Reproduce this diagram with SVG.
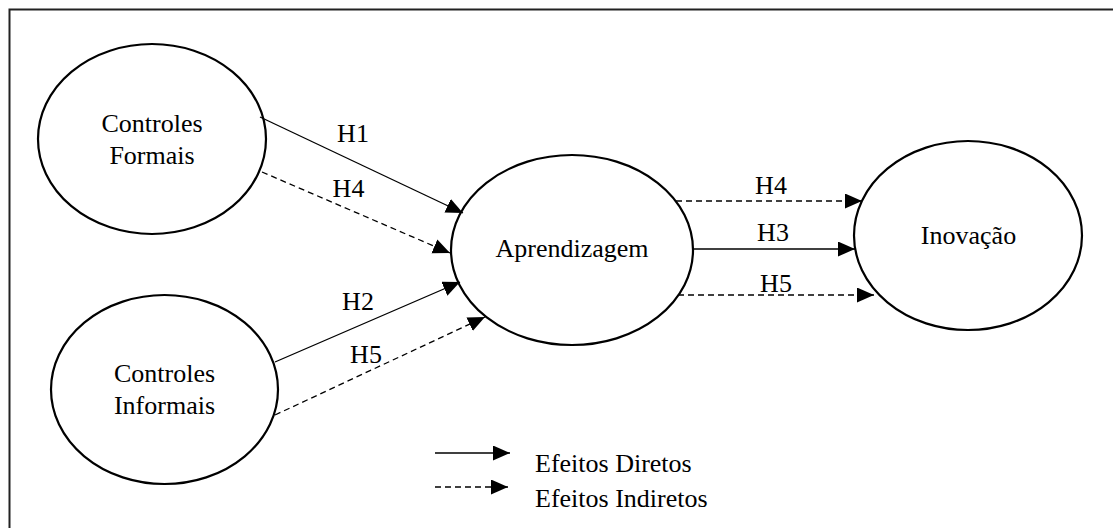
<svg xmlns="http://www.w3.org/2000/svg" width="1113" height="528" viewBox="0 0 1113 528">
<style>
.node{fill:#fff;stroke:#000;stroke-width:2.2}
.lbl{font-family:'Liberation Serif','Times New Roman',Times,serif;font-size:26px;fill:#000;text-anchor:middle}
.leg{font-family:'Liberation Serif','Times New Roman',Times,serif;font-size:26px;fill:#000}
.solid{stroke:#000;stroke-width:1.3;fill:none;marker-end:url(#ah)}
.dash{stroke:#000;stroke-width:1.3;fill:none;stroke-dasharray:6 4;marker-end:url(#ah)}
</style>
<defs>
<marker id="ah" markerUnits="userSpaceOnUse" markerWidth="18" markerHeight="16" refX="17" refY="7.5" orient="auto">
<path d="M0,0 L17,7.5 L0,15 Z" fill="#000"/>
</marker>
</defs>
<rect x="0" y="0" width="1113" height="528" fill="#fff"/>
<path d="M9.5,528 V9.5 H1113" fill="none" stroke="#222" stroke-width="2"/>
<g id="n-formais">
<ellipse class="node" cx="152" cy="139" rx="114" ry="95"/>
<text class="lbl" x="152" y="132">Controles</text>
<text class="lbl" x="152" y="164">Formais</text>
</g>
<g id="n-informais">
<ellipse class="node" cx="164.5" cy="389.5" rx="113.5" ry="94.5"/>
<text class="lbl" x="164.5" y="382">Controles</text>
<text class="lbl" x="164.5" y="414">Informais</text>
</g>
<g id="n-aprendizagem">
<ellipse class="node" cx="572" cy="250" rx="121" ry="95"/>
<text class="lbl" x="572" y="257">Aprendizagem</text>
</g>
<g id="n-inovacao">
<ellipse class="node" cx="968" cy="235.5" rx="114" ry="94.5"/>
<text class="lbl" x="968.5" y="244">Inovação</text>
</g>
<g id="connectors">
<line class="solid" x1="260" y1="117" x2="463" y2="213"/>
<line class="dash" x1="262" y1="172" x2="450" y2="253"/>
<line class="solid" x1="275" y1="362" x2="460" y2="282"/>
<line class="dash" x1="275" y1="415" x2="485" y2="317"/>
<line class="dash" x1="676" y1="201" x2="862" y2="201"/>
<line class="solid" x1="693" y1="249" x2="855" y2="249"/>
<line class="dash" x1="678" y1="295" x2="874" y2="295"/>
<text class="lbl" x="353" y="142">H1</text>
<text class="lbl" x="348.5" y="197">H4</text>
<text class="lbl" x="358" y="310">H2</text>
<text class="lbl" x="366" y="363">H5</text>
<text class="lbl" x="771" y="194">H4</text>
<text class="lbl" x="773" y="241">H3</text>
<text class="lbl" x="776" y="292">H5</text>
</g>
<g id="legend">
<line class="solid" x1="435" y1="453" x2="510" y2="453"/>
<line class="dash" x1="435" y1="487" x2="508" y2="487"/>
<text class="leg" x="535" y="472">Efeitos Diretos</text>
<text class="leg" x="535" y="507">Efeitos Indiretos</text>
</g>
</svg>
